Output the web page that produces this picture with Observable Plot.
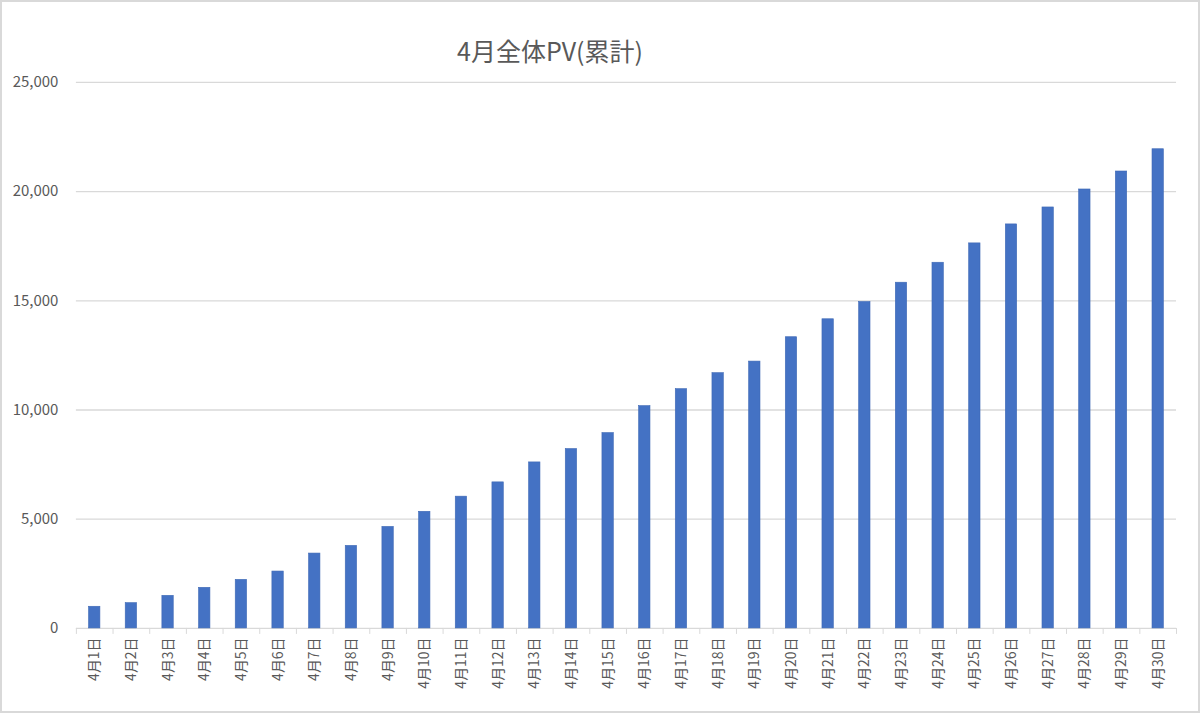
<!DOCTYPE html>
<html>
<head>
<meta charset="utf-8">
<script src="https://cdn.jsdelivr.net/npm/d3@7"></script>
<script src="https://cdn.jsdelivr.net/npm/@observablehq/plot@0.6"></script>
<style>
  html, body { margin: 0; padding: 0; background: #fff; }
  #wrap { position: relative; width: 1200px; height: 713px; box-sizing: border-box; border: 2px solid #d9d9d9; overflow: hidden; }
  #title { position: absolute; left: 455px; top: 36px; line-height: 25px; white-space: nowrap;
           font-family: "Noto Sans CJK JP", "Noto Sans", sans-serif; font-size: 25px; color: #595959; }
  #chart { position: absolute; left: -2px; top: -2px; }
</style>
</head>
<body>
<div id="wrap">
  <div id="title">4月全体PV(累計)</div>
  <div id="chart"></div>
</div>
<script>
const days = d3.range(1, 31).map(d => `4月${d}日`);
const pv = [992, 1158, 1493, 1860, 2224, 2605, 3428, 3779, 4648, 5340,
            6033, 6687, 7601, 8213, 8944, 10178, 10955, 11687, 12217, 13332,
            14154, 14945, 15828, 16742, 17628, 18497, 19273, 20096, 20919, 21938];
const yTicks = [0, 5000, 10000, 15000, 20000, 25000];

const data = days.map((d, i) => ({day: d, pv: pv[i]}));
const W = 1200, H = 713, mL = 76, mR = 22;
const step = (W - mL - mR) / days.length;
const font = '"Noto Sans CJK JP", "Noto Sans", sans-serif';

const chart = Plot.plot({
  width: W,
  height: H,
  marginLeft: mL,
  marginRight: mR,
  marginTop: 82,
  marginBottom: 84,
  style: {fontFamily: font, fontSize: "14px", color: "#595959", background: "transparent"},
  x: {domain: days, paddingInner: 0.69, paddingOuter: 0.345, round: false, label: null},
  y: {domain: [0, 25000], label: null},
  marks: [
    Plot.ruleY(yTicks, {stroke: "#d9d9d9", strokeWidth: 1.3}),
    Plot.axisY({ticks: yTicks, tickSize: 0, tickPadding: 18, tickFormat: d3.format(","), fill: "#595959", fontSize: 15, label: null}),
    Plot.barY(data, {x: "day", y: "pv", fill: "#4472c4", stroke: "#3f69b5", strokeWidth: 0.6}),
    Plot.axisX({ticks: days, tickSize: 6, stroke: "#d9d9d9", tickFormat: () => "", dx: -step / 2, label: null}),
    Plot.axisX({ticks: [days[days.length - 1]], tickSize: 6, stroke: "#d9d9d9", tickFormat: () => "", dx: step / 2, label: null}),
    Plot.axisX({ticks: days, tickSize: 0, tickPadding: 9, tickRotate: -90, fill: "#595959", fontSize: 14, label: null})
  ]
});
document.getElementById("chart").appendChild(chart);
</script>
</body>
</html>
